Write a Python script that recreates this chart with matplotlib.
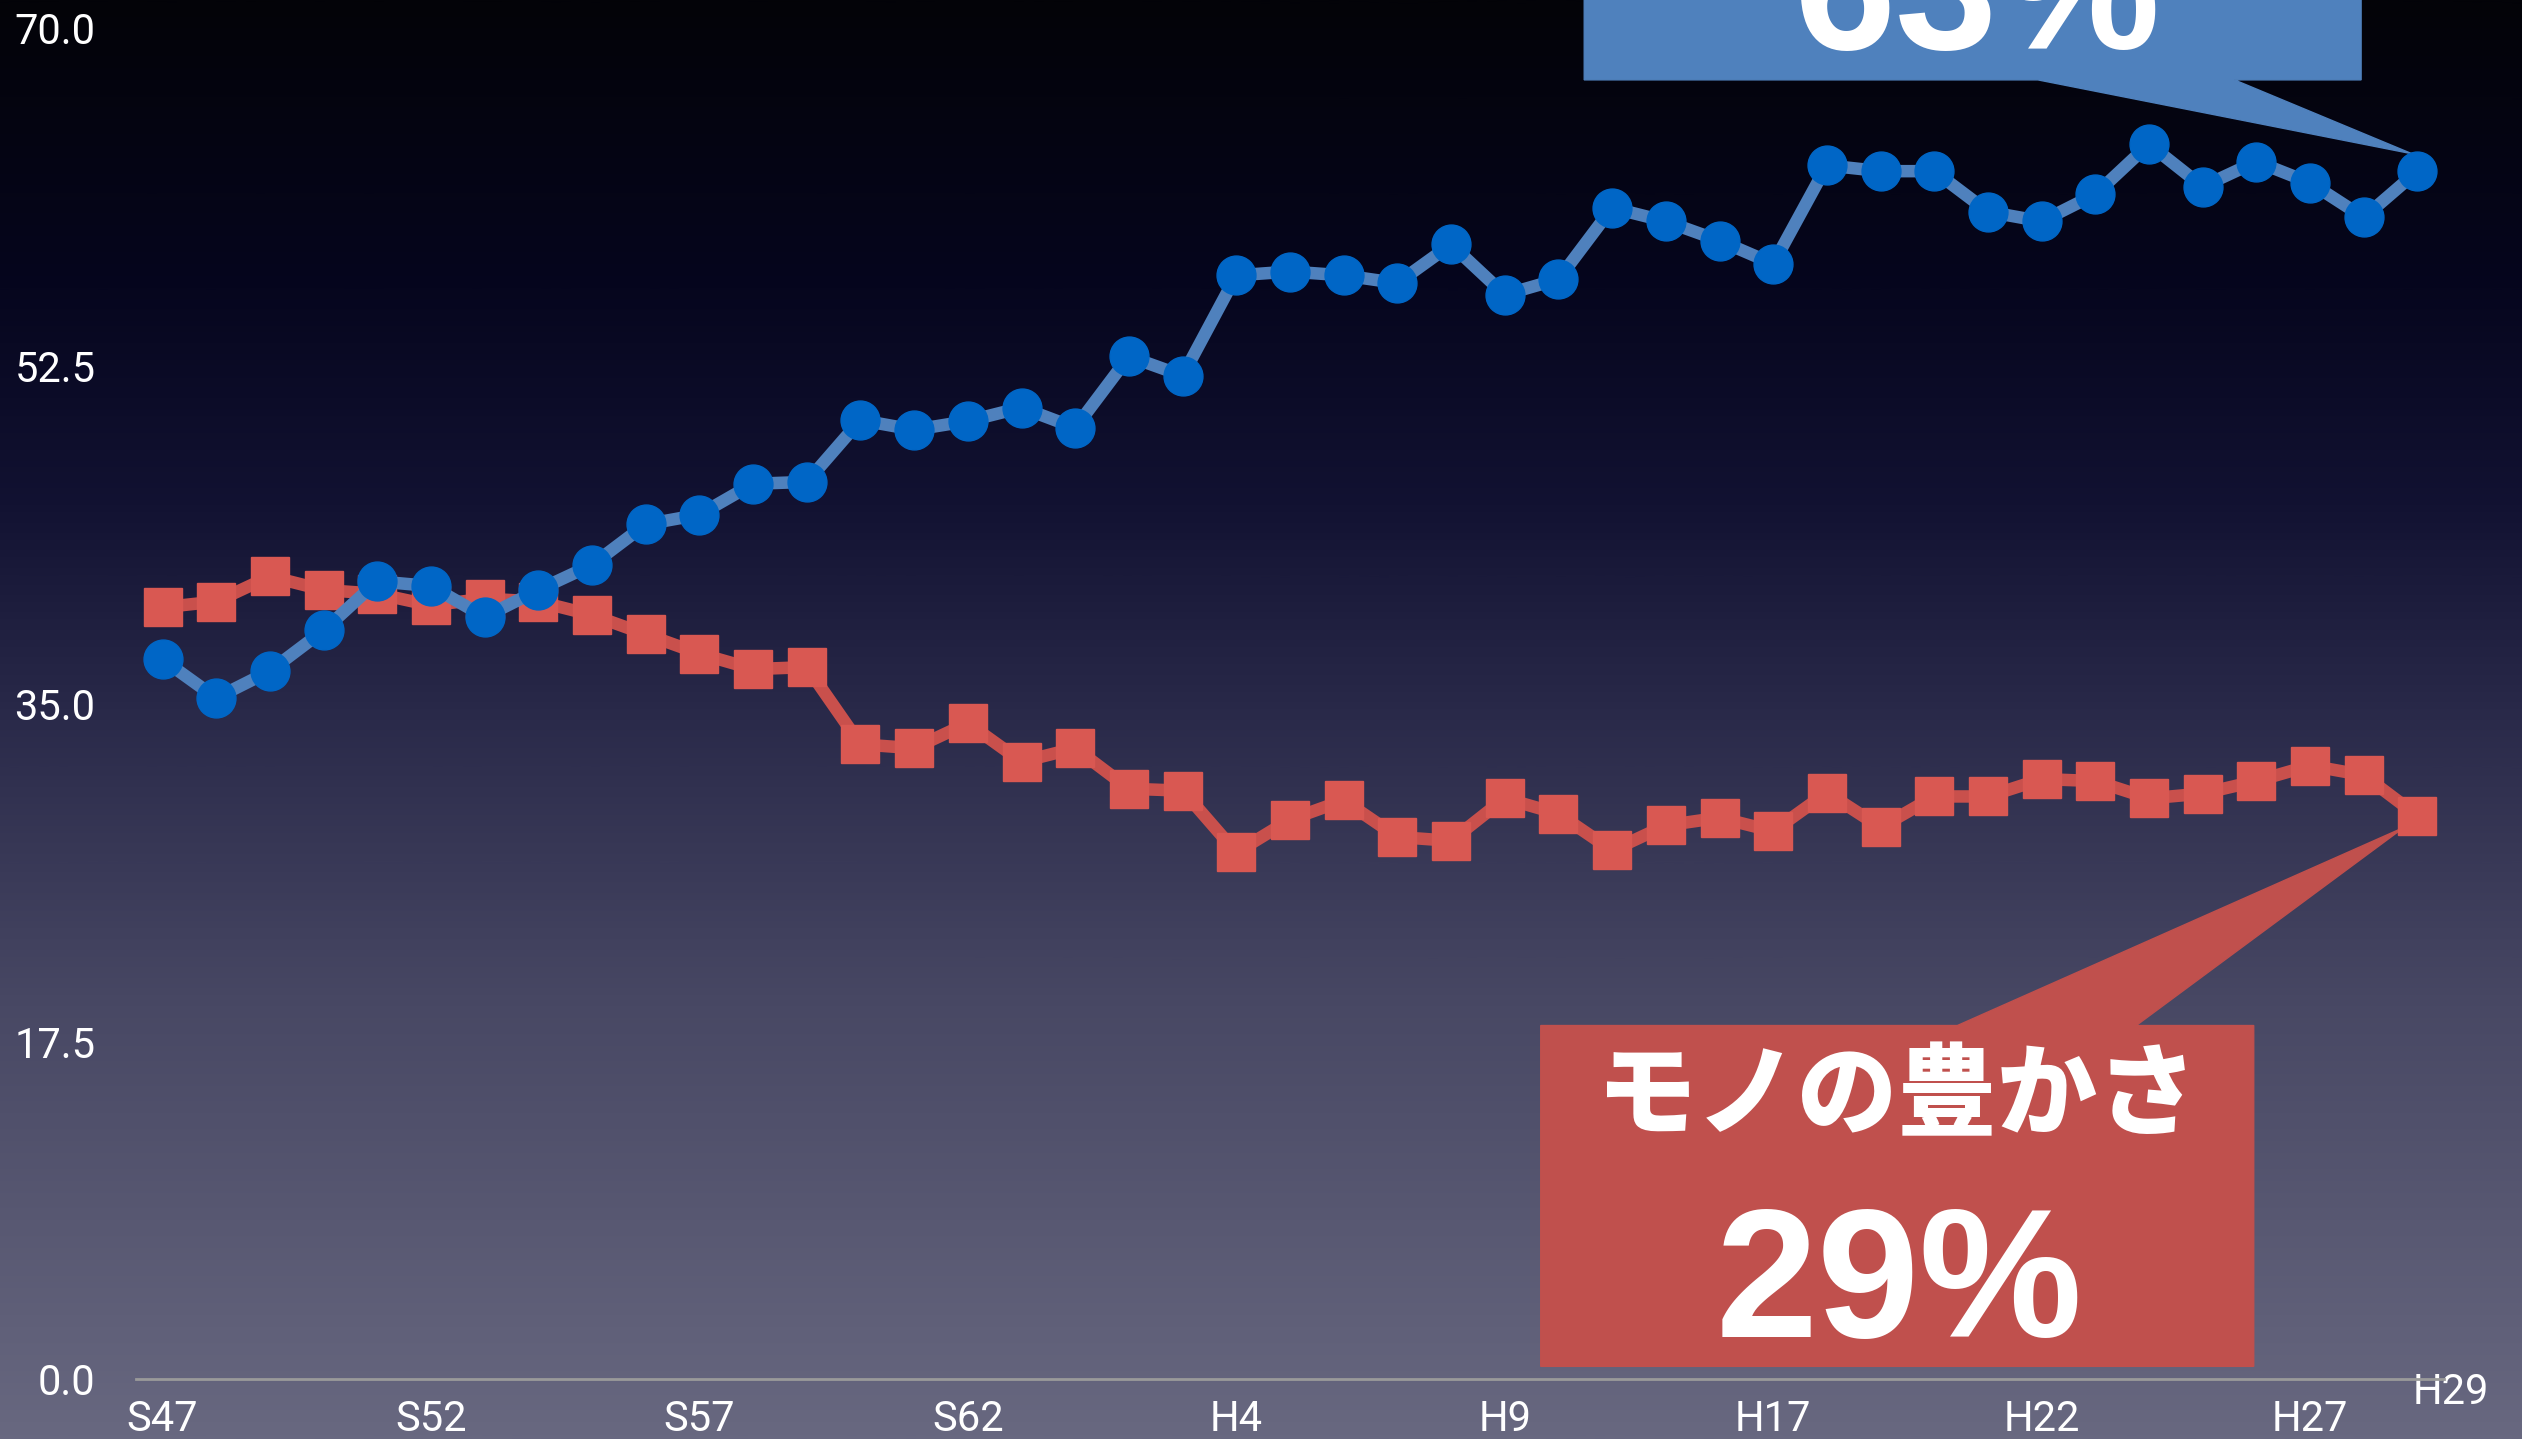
import numpy as np
import matplotlib.pyplot as plt
from matplotlib.patches import Polygon
from matplotlib.colors import LinearSegmentedColormap
from matplotlib.transforms import ScaledTranslation

# Daten
kokoro = [37.3, 35.3, 36.7, 38.8, 41.35, 41.1, 39.5, 40.9, 42.2, 44.3, 44.8,
          46.4, 46.5, 49.7, 49.2, 49.65, 50.35, 49.3, 53.0, 52.0, 57.2, 57.4,
          57.2, 56.8, 58.8, 56.2, 57.0, 60.7, 60.0, 59.0, 57.8, 62.9, 62.6,
          62.6, 60.5, 60.0, 61.4, 64.0, 61.8, 63.1, 62.0, 60.2, 62.6]
mono = [40.0, 40.3, 41.6, 40.9, 40.7, 40.1, 40.45, 40.3, 39.6, 38.6, 37.6,
        36.8, 36.9, 32.9, 32.7, 34.0, 32.0, 32.7, 30.6, 30.5, 27.3, 29.0,
        30.0, 28.1, 27.9, 30.1, 29.3, 27.4, 28.7, 29.1, 28.4, 30.4, 28.6,
        30.2, 30.2, 31.1, 31.0, 30.1, 30.35, 31.0, 31.8, 31.3, 29.2]
tick_pos = [0, 5, 10, 15, 20, 25, 30, 35, 40, 42]
tick_lab = ['S47', 'S52', 'S57', 'S62', 'H4', 'H9', 'H17', 'H22', 'H27', 'H29']
yticks = [0.0, 17.5, 35.0, 52.5, 70.0]

x = np.arange(len(kokoro))
n = len(kokoro)

fig = plt.figure(figsize=(25.22, 14.39), dpi=100)

# Hintergrund Verlauf
bg = fig.add_axes([0, 0, 1, 1])
cmap = LinearSegmentedColormap.from_list('bg', [
    (0.0, (3/255, 3/255, 8/255)),
    (0.2, (6/255, 6/255, 30/255)),
    (0.35, (18/255, 18/255, 50/255)),
    (0.5, (42/255, 42/255, 74/255)),
    (0.7, (72/255, 72/255, 100/255)),
    (1.0, (104/255, 104/255, 128/255))])
grad = np.linspace(0, 1, 512).reshape(-1, 1)
bg.imshow(grad, aspect='auto', cmap=cmap, extent=[0, 1, 0, 1], origin='upper')
bg.axis('off')

ax = fig.add_axes([0.0538, 0.0415, 0.9154, 0.9388])
ax.set_facecolor('none')
ax.set_xlim(-0.5, 42.5)
ax.set_ylim(0, 70)

# Sprechblasen
blue_box = '#4f81bd'
red_box = '#c0504d'
tip_b = (n - 1 - 0.1, kokoro[-1] + 0.9)
poly_b = [(26.48, 67.33), (34.93, 67.33), tip_b, (38.59, 67.33),
          (40.95, 67.33), (40.95, 95), (26.48, 95)]
ax.add_patch(Polygon(poly_b, closed=True, color=blue_box, clip_on=False, zorder=1))
tip_r = (n - 1 - 0.25, mono[-1] - 0.6)
poly_r = [(25.67, 0.67), (38.95, 0.67), (38.95, 18.33), (36.76, 18.33), tip_r,
          (33.43, 18.33), (25.67, 18.33)]
ax.add_patch(Polygon(poly_r, closed=True, color=red_box, clip_on=False, zorder=1))

ax.text(33.8, 68.94, '%d%%' % round(kokoro[-1]), ha='center', va='baseline',
        fontsize=132, fontweight='bold', family=['Liberation Sans', 'DejaVu Sans'],
        color='white', clip_on=False, zorder=2)
ax.text(32.3, 14.6, 'モノの豊かさ', ha='center', va='center', fontsize=72,
        fontweight='heavy', family=['Noto Sans CJK JP', 'DejaVu Sans'],
        color='white', zorder=2)
ax.text(32.35, 2.17, '%d%%' % round(mono[-1]), ha='center', va='baseline',
        fontsize=132, fontweight='bold', family=['Liberation Sans', 'DejaVu Sans'],
        color='white', zorder=2)

# Linien
ax.plot(x, mono, '-', color='#c9504c', lw=9, zorder=3, clip_on=False)
ax.plot(x, mono, 's', color='#d95852', ms=28, mec='#d95852', zorder=4, clip_on=False)
ax.plot(x, kokoro, '-', color='#4f81bd', lw=9, zorder=5, clip_on=False)
ax.plot(x, kokoro, 'o', color='#0066c6', ms=28, mec='#0066c6', zorder=6, clip_on=False)

# Achsen
for s in ['top', 'right', 'left']:
    ax.spines[s].set_visible(False)
ax.spines['bottom'].set_color('#9a9a9a')
ax.spines['bottom'].set_linewidth(2)
ax.set_yticks(yticks)
ax.set_yticklabels(['%.1f' % v for v in yticks])
ax.set_xticks(tick_pos)
ax.set_xticklabels(tick_lab)
ax.tick_params(axis='y', length=0, pad=29, labelsize=30, labelcolor='white')
ax.tick_params(axis='x', length=0, pad=14, labelsize=30, labelcolor='white')
for lab in ax.get_xticklabels() + ax.get_yticklabels():
    lab.set_family(['Roboto', 'DejaVu Sans'])
    lab.set_fontweight('normal')
last = ax.get_xticklabels()[-1]
last.set_transform(last.get_transform() + ScaledTranslation(0.33, 0.27, fig.dpi_scale_trans))

plt.savefig('out.png', dpi=100)
